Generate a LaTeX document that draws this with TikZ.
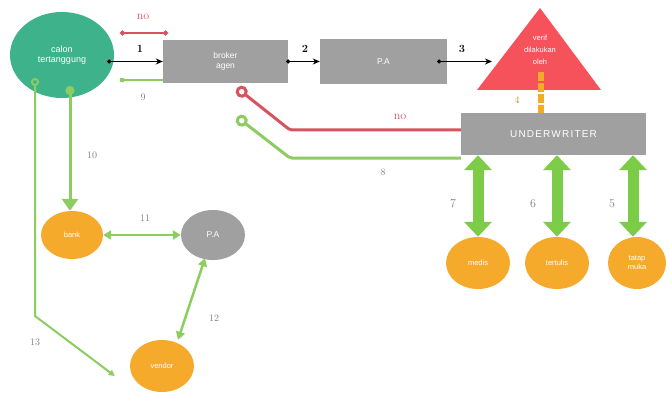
\documentclass[tikz,border=0pt]{standalone}
\usepackage{fontspec}
\setsansfont{Liberation Sans}
\usetikzlibrary{arrows.meta,shapes.geometric,calc}
\definecolor{calonc}{RGB}{62,178,138}
\definecolor{boxg}{RGB}{160,160,160}
\definecolor{trired}{RGB}{245,82,92}
\definecolor{redl}{RGB}{212,84,96}
\definecolor{greenl}{RGB}{140,204,96}
\definecolor{greenf}{RGB}{124,204,72}
\definecolor{orangec}{RGB}{246,170,44}
\definecolor{labg}{RGB}{128,128,128}
\begin{document}
\begin{tikzpicture}[x=1pt,y=-1pt,
  box/.style={rectangle, fill=boxg, text=white, font=\sffamily\fontsize{8.5}{10}\selectfont, align=center, inner sep=0pt},
  oval/.style={ellipse, fill=orangec, text=white, font=\sffamily\fontsize{7.5}{9}\selectfont, align=center, inner sep=0pt, minimum width=64pt, minimum height=52pt},
  num/.style={text=labg, font=\fontsize{10}{11}\selectfont},
  bnum/.style={text=black, font=\bfseries\fontsize{11}{12}\selectfont},
  rnum/.style={text=redl, font=\fontsize{12}{13}\selectfont},
  blk/.style={black, line width=1.2pt, {Circle[length=4pt]}-{Stealth[length=7pt,width=6pt]}},
  gline/.style={greenl, line width=2.5pt},
  rline/.style={redl, line width=3pt},
  fat/.style={greenf, line width=11pt, {Triangle[width=27pt,length=15pt]}-{Triangle[width=27pt,length=15pt]}},
  dbl/.style={greenl, line width=2.5pt, {Triangle[width=9pt,length=8pt]}-{Triangle[width=9pt,length=8pt]}}
]
\useasboundingbox (0,0) rectangle (669,398);

% main nodes
\node[ellipse, fill=calonc, text=white, font=\sffamily\fontsize{9}{10.5}\selectfont, align=center,
      minimum width=104pt, minimum height=86pt, inner sep=0pt] (calon) at (62,55) {calon\\tertanggung};
\node[box, minimum width=125pt, minimum height=43pt] (broker) at (225.5,61.5) {broker\\agen};
\node[box, minimum width=127pt, minimum height=45pt] (pa) at (383.5,61.5) {P.A};
\fill[trired] (540,8) -- (601,90) -- (477,90) -- cycle;
\node[text=white, font=\sffamily\fontsize{7.5}{12}\selectfont, align=center] (tri) at (540,50) {verif\\dilakukan\\oleh};
\node[box, minimum width=185pt, minimum height=42pt, font=\sffamily\fontsize{10}{11}\selectfont\addfontfeature{LetterSpace=12}] (uw) at (553.5,134) {UNDERWRITER};

\node[oval] (medis) at (478,263) {medis};
\node[oval] (tulis) at (557,263) {tertulis};
\node[oval, minimum width=58pt] (muka) at (637,263) {tatap\\muka};

\node[oval, minimum width=62pt, minimum height=48pt] (bank) at (72,235) {bank};
\node[oval, fill=boxg, minimum width=64pt, minimum height=50pt, font=\sffamily\fontsize{8.5}{9}\selectfont] (pa2) at (213,235) {P.A};
\node[oval] (vendor) at (162,366) {vendor};

% top flow
\draw[blk] ([xshift=-7pt]calon.east |- broker.west) -- (broker.west);
\node[bnum] at (140,49) {1};
\draw[blk] ([xshift=-2pt]broker.east) -- (pa.west);
\node[bnum] at (305,49) {2};
\coordinate (triL) at (492,61.5);
\draw[blk] ([xshift=-10pt]pa.east) -- (triL);
\node[bnum] at (462,49) {3};

% red "no" top
\coordinate (no1) at (120,33);
\coordinate (no2) at (168,33);
\draw[redl, line width=2pt, {Circle[length=5pt]}-{Circle[length=5pt]}] (no1) -- (no2);
\node[rnum] at (143,17) {no};

% green 9
\coordinate (g9) at (120,80);
\draw[gline, line width=2pt, {Square[length=4pt]}-] (g9) -- ([yshift=3pt]broker.south west);
\node[num] at (143,97) {9};

% orange 4
\coordinate (triB) at (541,72);
\draw[orangec, line width=6pt, dash pattern=on 9pt off 2pt] (triB) -- ([xshift=-12.5pt]uw.north);
\node[num, text=orangec!80!black] at (517,100) {4};

% red no line from broker
\coordinate (rs) at (237,88);
\draw[rline, {Circle[open,length=12pt,width=12pt]}-, rounded corners=2pt] (rs) -- (290,130) -- ([yshift=4pt]uw.west);
\node[rnum] at (400,117) {no};

% green 8 line
\coordinate (gs) at (237,117);
\draw[gline, line width=3pt, {Circle[open,length=12pt,width=12pt]}-, rounded corners=2pt] (gs) -- (290,158) -- ([yshift=-3pt]uw.south west);
\node[num] at (383,172) {8};

% fat arrows
\draw[fat] (medis.north |- uw.south) -- (medis.north);
\draw[fat] (tulis.north |- uw.south) -- (tulis.north);
\draw[fat] ([xshift=-4pt]muka.north |- uw.south) -- ([xshift=-4pt]muka.north);
\node[num, font=\fontsize{12}{13}\selectfont] at (453,204) {7};
\node[num, font=\fontsize{12}{13}\selectfont] at (533,204) {6};
\node[num, font=\fontsize{12}{13}\selectfont] at (612,204) {5};

% 10
\draw[greenl, line width=3pt, {Circle[length=9pt,width=9pt]}-{Triangle[width=16pt,length=12pt]}] ([xshift=8pt,yshift=-31pt]calon.center) -- ([xshift=-2pt]bank.north);
\node[num] at (92,155) {10};

% 11
\draw[dbl] (bank.east) -- (pa2.west);
\node[num] at (145,218) {11};

% 12
\draw[dbl] ([xshift=-8pt,yshift=2pt]pa2.south) -- ([xshift=16pt]vendor.north);
\node[num] at (214,318) {12};

% 13
\coordinate (c13) at (35,78);
\draw[gline, line width=2pt, {Circle[open,length=8pt,width=8pt]}-{Triangle[width=6pt,length=6pt]}] (c13) -- (35,316) -- ([shift={(-15pt,-10pt)}]vendor.west);
\node[num] at (35,342) {13};
\end{tikzpicture}
\end{document}
